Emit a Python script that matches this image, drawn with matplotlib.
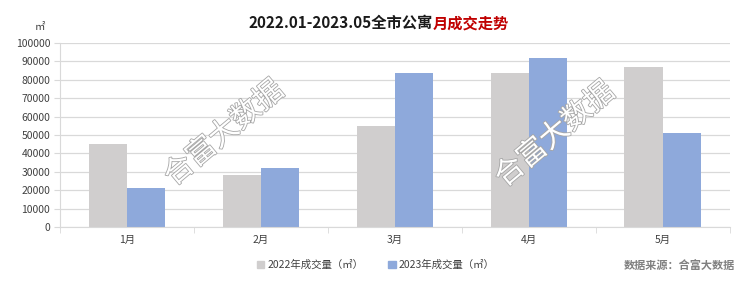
import numpy as np
import matplotlib.pyplot as plt
import matplotlib.patheffects as pe
from matplotlib.patches import Patch

plt.rcParams['font.family'] = ['Noto Sans CJK SC', 'DejaVu Sans']

# data
months = ["1月", "2月", "3月", "4月", "5月"]
vol_2022 = [45000, 28500, 55000, 83500, 87000]
vol_2023 = [21000, 32000, 83500, 92000, 51000]
yticks = np.arange(0, 100001, 10000)

C22 = "#D0CECE"
C23 = "#8EA9DB"
GRID = "#D9D9D9"
TXT = "#404040"

fig = plt.figure(figsize=(7.4, 2.81), dpi=100)
ax = fig.add_axes([0.081, 0.192, 0.905, 0.655])

x = np.arange(len(months))
w = 0.285
ax.bar(x - w/2, vol_2022, width=w, color=C22, zorder=2)
ax.bar(x + w/2, vol_2023, width=w, color=C23, zorder=2)

ax.set_xlim(-0.5, len(months) - 0.5)
ax.set_ylim(0, 100000)
ax.set_yticks(yticks)
ax.set_yticklabels([str(v) for v in yticks], fontsize=7.5, color=TXT)
ax.yaxis.grid(True, color=GRID, linewidth=0.9, zorder=0)
ax.set_axisbelow(True)

# category labels in the middle, tick marks on the boundaries
ax.set_xticks(x)
ax.set_xticklabels(months, fontsize=7.5, color=TXT)
ax.tick_params(axis='x', length=0, pad=6)
ax.set_xticks(np.arange(-0.5, len(months)), minor=True)
ax.tick_params(axis='x', which='minor', length=4, color=GRID)
ax.tick_params(axis='y', length=4, color=GRID, pad=3)

for s in ['top', 'right']:
    ax.spines[s].set_visible(False)
ax.spines['left'].set_color(GRID)
ax.spines['bottom'].set_color(GRID)

# watermarks
for wx, wy in [(0.303, 0.525), (0.75, 0.52)]:
    fig.text(wx, wy, "合富大数据", fontsize=21, color="white", rotation=40,
             ha='center', va='center', zorder=5,
             path_effects=[pe.withStroke(linewidth=1.2, foreground="#A6A6A6")])

# title
fig.text(0.585, 0.918, "2022.01-2023.05全市公寓", fontsize=11, fontweight='bold',
         color="#1a1a1a", ha='right', va='center')
fig.text(0.585, 0.918, "月成交走势", fontsize=11, fontweight='bold',
         color="#C00000", ha='left', va='center')

fig.text(0.054, 0.905, "㎡", fontsize=7.5, color=TXT, ha='center', va='center')

handles = [Patch(color=C22, label="2022年成交量（㎡）"),
           Patch(color=C23, label="2023年成交量（㎡）")]
fig.legend(handles=handles, loc='center', bbox_to_anchor=(0.508, 0.057), ncol=2,
           frameon=False, fontsize=7.5, handlelength=0.7, handleheight=0.7,
           handletextpad=0.3, columnspacing=2.4, labelcolor=TXT)

fig.text(0.993, 0.057, "数据来源：合富大数据", fontsize=8, fontweight='bold',
         color="#808080", ha='right', va='center')

fig.savefig("out.png", dpi=100)
